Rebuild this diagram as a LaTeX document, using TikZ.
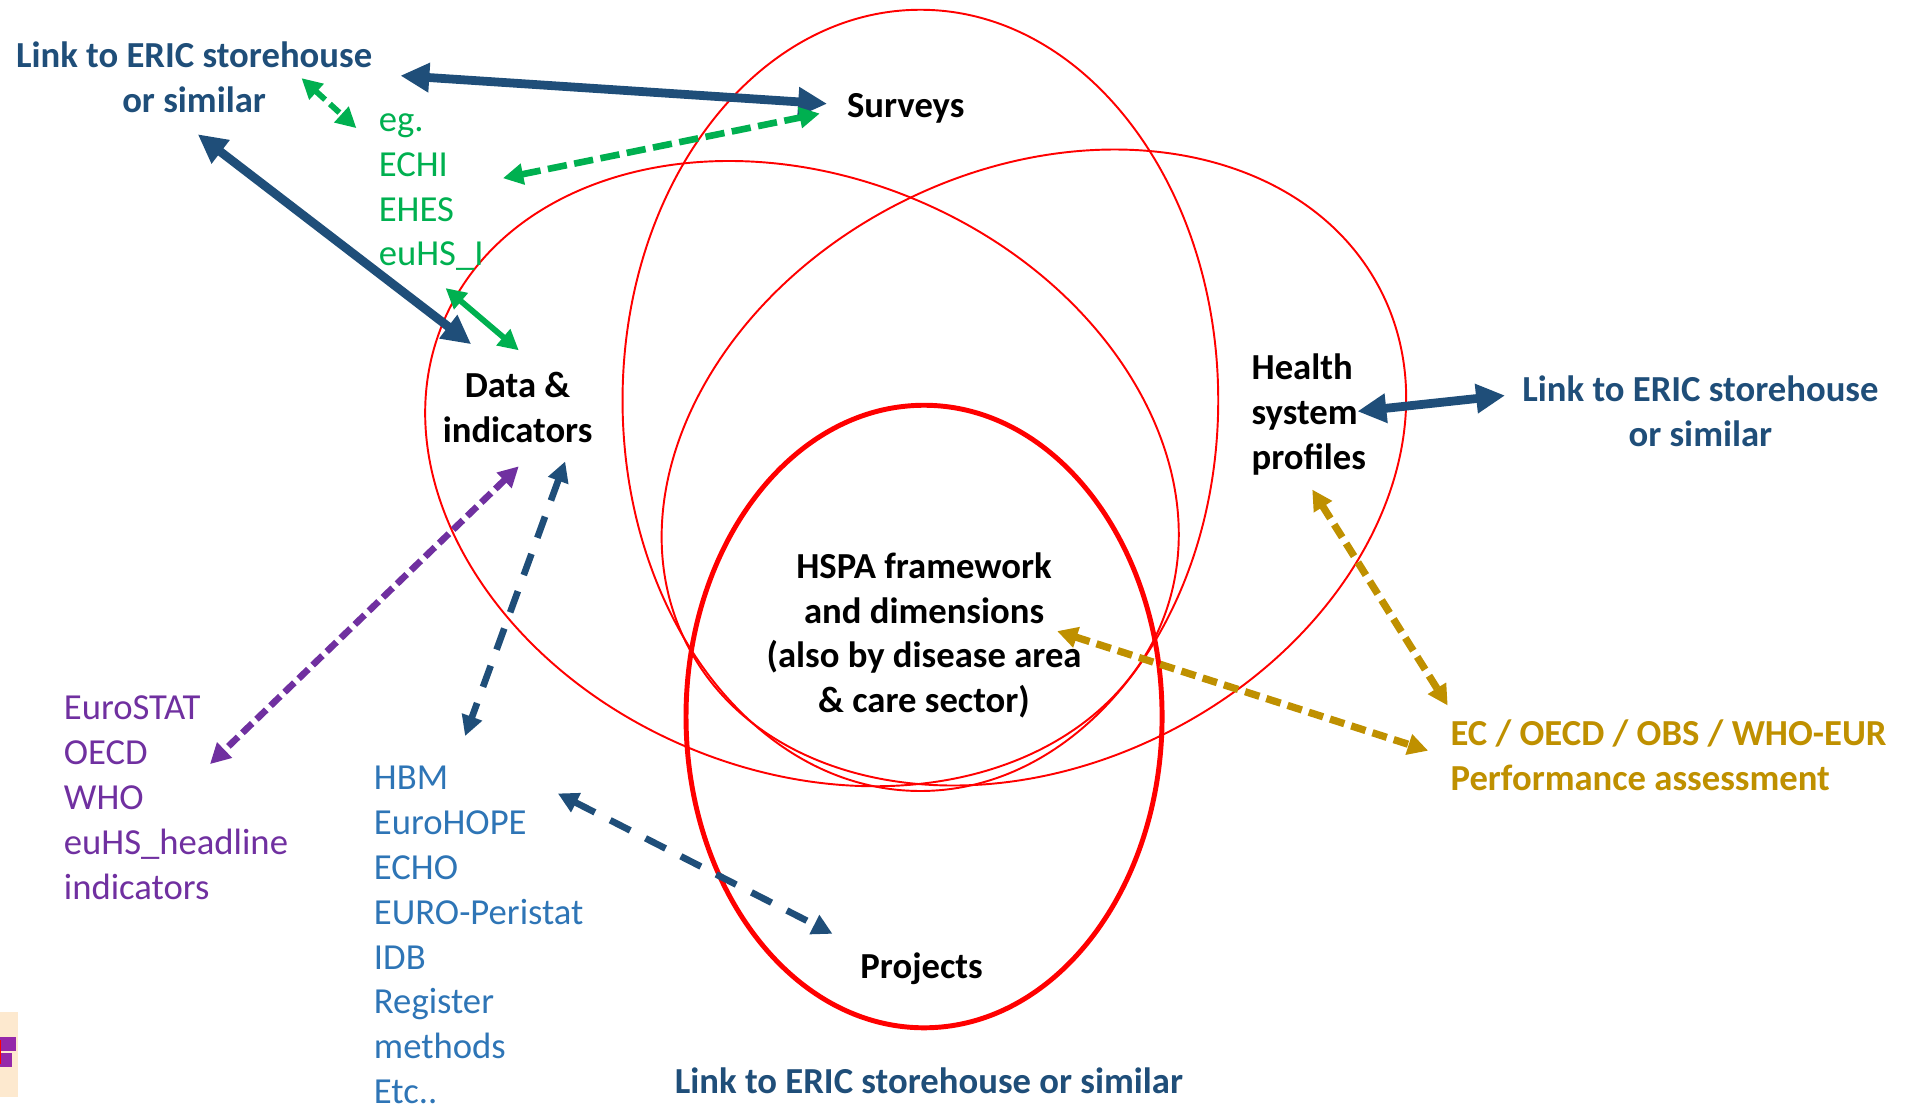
\documentclass[tikz,border=0pt]{standalone}
\usepackage{fontspec}
\setmainfont{Carlito}
\usepackage{tikz}
\usetikzlibrary{arrows.meta, positioning}
\usepackage{xcolor}

\definecolor{ericblue}{RGB}{31,78,121}
\definecolor{surveygreen}{RGB}{0,176,80}
\definecolor{sourcepurple}{RGB}{112,48,160}
\definecolor{projblue}{RGB}{46,117,182}
\definecolor{assessgold}{RGB}{191,144,0}
\definecolor{vennred}{RGB}{255,0,0}
\definecolor{peach}{RGB}{253,233,207}
\definecolor{clipmagenta}{RGB}{150,40,170}

\newcommand{\txtsize}{\fontsize{17.1}{20.9}\selectfont}

\begin{document}
\begin{tikzpicture}[x=0.02cm, y=-0.02cm, >={Triangle[length=9.5pt, width=9.5pt]}]
% Define styles for labels, lists, sets and links
\tikzstyle{heading} = [font=\txtsize\bfseries, text=black, align=center, inner sep=0pt]
\tikzstyle{link} = [font=\txtsize\bfseries, text=ericblue, align=center, inner sep=0pt]
\tikzstyle{list} = [font=\txtsize, align=left, anchor=west, inner sep=0pt]
\tikzstyle{venn} = [draw=vennred, line width=0.9pt]
\tikzstyle{solidlink} = [<->, draw=ericblue, line width=4.1pt, >={Triangle[length=13.5pt, width=13pt]}]
\tikzstyle{dashlink} = [<->, line width=3.1pt, dash pattern=on 10.5pt off 8pt]

\useasboundingbox (0,0) rectangle (1568,905);

% Sets
\draw[venn] (754,328) ellipse [x radius=244, y radius=320]; % surveys
\draw[venn, rotate around={-23:(657,388)}] (657,388) ellipse [x radius=319, y radius=243]; % data
\draw[venn, rotate around={27:(847,383)}] (847,383) ellipse [x radius=319, y radius=243]; % profiles
\draw[venn, line width=2.3pt] (757,587) ellipse [x radius=195, y radius=255]; % HSPA

% Nodes placement
\node [link] (linkTL) at (159,63) {Link to ERIC storehouse\\or similar};
\node [heading] (surveys) at (742,89) {Surveys};
\node [list, text=surveygreen] (surveyex) at (310,157.5) {eg.\\ECHI\\EHES\\euHS\_I};
\node [heading] (data) at (424,334) {Data \&\\indicators};
\node [heading, align=left, anchor=west] (health) at (1025,339.5) {Health\\system\\profiles};
\node [link] (linkR) at (1393,337) {Link to ERIC storehouse\\or similar};
\node [heading] (hspa) at (757,520.5) {HSPA framework\\and dimensions\\(also by disease area\\\& care sector)};
\node [list, text=sourcepurple] (sources) at (52,653.5) {EuroSTAT\\OECD\\WHO\\euHS\_headline\\indicators};
\node [list, text=projblue] (projlist) at (306,766) {HBM\\EuroHOPE\\ECHO\\EURO-Peristat\\IDB\\Register\\methods\\Etc..};
\node [heading, align=left, anchor=west, text=assessgold] (assess) at (1188,618.5) {EC / OECD / OBS / WHO-EUR\\Performance assessment};
\node [heading] (projects) at (755,794) {Projects};
\node [link] (linkB) at (761,885) {Link to ERIC storehouse or similar};

% Draw edges
\draw[solidlink] ([shift={(169,-1)}]linkTL.center) -- ([shift={(-16,-4)}]surveys.west);
\draw[solidlink] ([shift={(3,47)}]linkTL.center) -- ([shift={(-38,-52)}]data.center);
\draw[dashlink, draw=surveygreen, line width=2.7pt, dash pattern=on 6pt off 3pt] ([shift={(88,1)}]linkTL.center) -- ([shift={(-18,-52.5)}]surveyex.west);
\draw[dashlink, draw=surveygreen, dash pattern=on 9pt off 3.5pt] ([shift={(102,-11.5)}]surveyex.west) -- ([shift={(-22,4)}]surveys.west);
\draw[<->, draw=surveygreen, line width=2.7pt] ([shift={(55,78.5)}]surveyex.west) -- ([shift={(1,-47)}]data.center);
\draw[dashlink, draw=sourcepurple, dash pattern=on 6.3pt off 2.8pt] ([shift={(1,48)}]data.center) -- ([shift={(120,-27.5)}]sources.west);
\draw[dashlink, draw=ericblue] ([shift={(39,44)}]data.center) -- ([shift={(75,-163)}]projlist.west);
\draw[dashlink, draw=ericblue] ([shift={(151,-116)}]projlist.west) -- ([shift={(-73,-29)}]projects.center);
\draw[solidlink] ([shift={(87,-2.5)}]health.west) -- ([shift={(-160,-13)}]linkR.center);
\draw[dashlink, draw=assessgold, line width=3.4pt, dash pattern=on 7pt off 3.4pt] ([shift={(50,61.5)}]health.west) -- ([shift={(-2,-40.5)}]assess.west);
\draw[dashlink, draw=assessgold, line width=3.4pt, dash pattern=on 7pt off 3.4pt] ([shift={(109,-3.5)}]hspa.center) -- ([shift={(-18,-3.5)}]assess.west);

% Clipped fragment at the left edge
\fill[peach] (0,829) rectangle (14.5,899);
\fill[clipmagenta] (0,849.5) rectangle (12.9,861);
\fill[clipmagenta] (0,862.6) rectangle (10,874);
\fill[vennred] (0,852) rectangle (1,872);
\end{tikzpicture}
\end{document}
